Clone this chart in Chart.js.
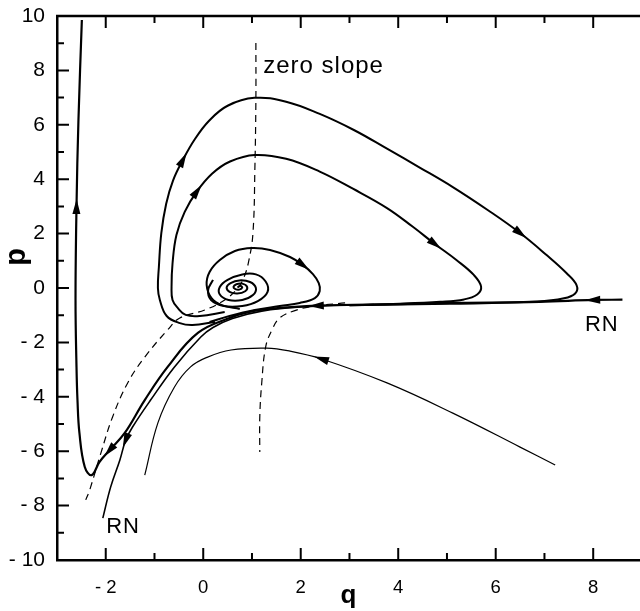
<!DOCTYPE html>
<html>
<head>
<meta charset="utf-8">
<script src="https://cdn.jsdelivr.net/npm/chart.js@4/dist/chart.umd.min.js"></script>
<style>
  html, body { margin: 0; padding: 0; background: #fff; }
  #wrap { width: 640px; height: 611px; }
</style>
</head>
<body>
<div id="wrap"><canvas id="phase"></canvas></div>
<script>
// trajectories, as [q, p]
const rnTop = [
  [8.6, -0.43], [8.0, -0.44], [6.9, -0.51], [5.06, -0.55], [4.03, -0.59],
  [2.33, -0.65], [1.37, -0.77], [0.95, -0.88], [0.54, -1.10], [-0.11, -1.65],
  [-0.73, -2.90], [-1.20, -4.12], [-1.61, -5.33], [-1.92, -5.96], [-2.13, -6.40],
  [-2.29, -6.88], [-2.43, -6.58], [-2.54, -5.33], [-2.58, -4.12], [-2.60, -2.90],
  [-2.62, -0.44], [-2.60, 2.98], [-2.56, 6.18], [-2.49, 9.85],
];
const rnBottom = [
  [3.5, -0.61], [2.0, -0.70], [1.2, -0.85], [0.6, -1.12], [0.2, -1.45],
  [-0.05, -1.80], [-0.59, -2.90], [-1.08, -4.12], [-1.45, -5.11], [-1.59, -5.59],
  [-1.71, -6.32], [-1.90, -7.32], [-2.06, -8.46],
];
const loopOuter = [
  [0.24, -1.25], [-0.22, -1.36], [-0.48, -1.29], [-0.75, -1.03], [-0.89, -0.44],
  [-0.93, 0], [-0.91, 0.77], [-0.86, 2.02], [-0.76, 3.10], [-0.62, 3.95],
  [-0.42, 4.70], [-0.18, 5.45], [0.12, 6.15], [0.50, 6.70], [1.05, 6.99],
  [1.70, 6.85], [2.39, 6.40], [3.10, 5.80], [3.77, 5.12], [4.45, 4.42],
  [5.12, 3.71], [5.85, 2.85], [6.50, 2.02], [7.05, 1.20], [7.45, 0.55],
  [7.66, 0.10], [7.63, -0.20], [7.40, -0.38], [6.85, -0.50], [5.06, -0.58], [3.0, -0.63],
];
const loopMiddle = [
  [0.44, -0.88], [-0.07, -1.03], [-0.36, -0.99], [-0.52, -0.74], [-0.63, -0.44],
  [-0.65, 0.04], [-0.63, 0.90], [-0.55, 1.95], [-0.38, 2.80], [-0.13, 3.55],
  [0.18, 4.20], [0.55, 4.65], [1.06, 4.89], [1.70, 4.75], [2.39, 4.28],
  [3.07, 3.65], [3.77, 2.94], [4.30, 2.25], [4.75, 1.62], [5.20, 1.02],
  [5.55, 0.48], [5.70, 0.05], [5.62, -0.24], [5.35, -0.42], [4.86, -0.51],
  [4.03, -0.58], [3.0, -0.63],
];
const loopSmall = [
  [0.75, -0.77], [0.38, -0.63], [0.17, -0.37], [0.07, 0.11], [0.13, 0.59],
  [0.34, 1.03], [0.65, 1.36], [1.00, 1.47], [1.37, 1.40], [1.78, 1.14],
  [2.04, 0.85], [2.25, 0.51], [2.37, 0.18], [2.39, -0.11], [2.29, -0.37],
  [1.98, -0.55], [1.57, -0.66], [1.06, -0.81], [0.54, -1.03], [0.13, -1.25],
];
const spiral = [
  [0.70, 0.02], [0.76, 0.08], [0.80, 0.02], [0.74, -0.06], [0.66, -0.04],
  [0.62, 0.04], [0.68, 0.14], [0.80, 0.16], [0.90, 0.04], [0.86, -0.12],
  [0.70, -0.20], [0.54, -0.14], [0.48, 0.02], [0.56, 0.18], [0.74, 0.28],
  [0.96, 0.22], [1.08, 0.0], [1.02, -0.26], [0.80, -0.44], [0.52, -0.44],
  [0.34, -0.24], [0.34, 0.04], [0.50, 0.30], [0.80, 0.50], [1.08, 0.50],
  [1.28, 0.24], [1.32, -0.14], [1.12, -0.48], [0.80, -0.66], [0.42, -0.66],
  [0.16, -0.44], [0.10, -0.08], [0.20, 0.30],
];
const lowerArc = [
  [7.22, -6.51], [6.50, -5.85], [5.12, -4.60], [3.77, -3.49], [2.43, -2.61],
  [1.78, -2.32], [1.30, -2.21], [0.57, -2.28], [0.09, -2.54], [-0.26, -2.90],
  [-0.59, -3.64], [-0.93, -4.96], [-1.20, -6.88],
];
// zero slope curves (dashed)
const zeroSlopeLeft = [
  [1.08, 9.01], [1.08, 6.91], [1.06, 4.45], [1.02, 2.02], [0.93, 0.96],
  [0.83, 0.37], [0.71, 0.0], [0.44, -0.44], [0.03, -0.81], [-0.48, -1.10],
  [-0.73, -1.54], [-1.20, -2.54], [-1.55, -3.49], [-1.86, -4.74], [-2.10, -6.07],
  [-2.33, -7.43], [-2.41, -7.79],
];
const zeroSlopeRight = [
  [2.91, -0.55], [2.29, -0.66], [1.88, -0.83], [1.57, -1.10], [1.41, -1.54],
  [1.28, -2.17], [1.20, -3.49], [1.16, -4.74], [1.16, -6.03],
];

// arrows: [dataset, point index], pointing along the curve
const arrows = [
  [0, 1], [0, 5], [0, 13], [0, 21], [1, 9],
  [2, 10], [2, 22], [3, 9], [3, 18], [4, 10], [6, 4],
];

const notes = [
  { text: 'zero slope', q: 1.23, p: 7.92 },
  { text: 'RN', q: 7.83, p: -1.58 },
  { text: 'RN', q: -1.99, p: -9.0 },
];

const font = 'Liberation Sans, Arial, sans-serif';

function line(pts, width, dash) {
  return {
    data: pts.map(([q, p]) => ({ x: q, y: p })),
    showLine: true,
    borderColor: '#000',
    backgroundColor: '#000',
    borderWidth: width,
    borderDash: dash || [],
    pointRadius: 0,
    tension: 0.4,
  };
}

function fmt(v) {
  return v < 0 ? '- ' + Math.abs(v) : String(v);
}

function noPad(s) {
  s.paddingTop = 0;
  s.paddingBottom = 0;
  s.paddingLeft = 0;
  s.paddingRight = 0;
}

const decor = {
  id: 'decor',
  afterDatasetsDraw(chart) {
    const { ctx, chartArea: a } = chart;
    const xs = chart.scales.x;
    const ys = chart.scales.y;
    ctx.save();
    ctx.fillStyle = '#000';
    // arrow heads
    arrows.forEach(([d, i]) => {
      const pts = chart.getDatasetMeta(d).data;
      const prev = pts[Math.max(i - 1, 0)];
      const next = pts[Math.min(i + 1, pts.length - 1)];
      const ang = Math.atan2(next.y - prev.y, next.x - prev.x);
      const c = pts[i];
      ctx.save();
      ctx.translate(c.x, c.y);
      ctx.rotate(ang);
      ctx.beginPath();
      ctx.moveTo(8, 0);
      ctx.lineTo(-7, -4);
      ctx.lineTo(-7, 4);
      ctx.closePath();
      ctx.fill();
      ctx.restore();
    });

    // top axis and inward ticks
    ctx.strokeStyle = '#000';
    ctx.lineWidth = 2.5;
    ctx.beginPath();
    ctx.moveTo(a.left - 1, a.top);
    ctx.lineTo(a.right, a.top);
    ctx.stroke();
    ctx.lineWidth = 2;
    ctx.beginPath();
    for (let q = -2; q <= 8; q++) {
      const x = xs.getPixelForValue(q);
      const len = q % 2 === 0 ? 12 : 7;
      ctx.moveTo(x, a.bottom); ctx.lineTo(x, a.bottom - len);
      ctx.moveTo(x, a.top); ctx.lineTo(x, a.top + len);
    }
    for (let p = -9; p <= 9; p++) {
      const y = ys.getPixelForValue(p);
      const len = p % 2 === 0 ? 12 : 7;
      ctx.moveTo(a.left, y); ctx.lineTo(a.left + len, y);
    }
    ctx.stroke();

    // notes
    ctx.letterSpacing = '1px';
    ctx.textAlign = 'left';
    ctx.textBaseline = 'alphabetic';
    notes.forEach((n, k) => {
      ctx.font = (k === 0 ? 24 : 22) + 'px ' + font;
      ctx.fillText(n.text, xs.getPixelForValue(n.q), ys.getPixelForValue(n.p));
    });
    ctx.letterSpacing = '0px';

    // axis titles
    ctx.textAlign = 'center';
    ctx.font = 'bold 26px ' + font;
    ctx.fillText('q', (a.left + a.right) / 2, 603);
    ctx.save();
    ctx.translate(25, 257);
    ctx.rotate(-Math.PI / 2);
    ctx.font = 'bold 29px ' + font;
    ctx.fillText('p', 0, 0);
    ctx.restore();
    ctx.restore();
  },
};

new Chart(document.getElementById('phase'), {
  type: 'scatter',
  data: {
    datasets: [
      line(rnTop, 2.2),
      line(rnBottom, 1.6),
      line(loopOuter, 2),
      line(loopMiddle, 2),
      line(loopSmall, 2),
      line(spiral, 2),
      line(lowerArc, 1.2),
      line(zeroSlopeLeft, 1.2, [7, 5]),
      line(zeroSlopeRight, 1.2, [7, 5]),
    ],
  },
  options: {
    responsive: true,
    maintainAspectRatio: false,
    animation: false,
    devicePixelRatio: 1,
    layout: { padding: { top: 16, right: 0, left: 0, bottom: 0 } },
    plugins: { legend: { display: false }, tooltip: { enabled: false } },
    scales: {
      x: {
        type: 'linear',
        min: -3,
        max: 8.96,
        ticks: {
          stepSize: 2,
          includeBounds: false,
          color: '#000',
          padding: 17,
          font: { family: font, size: 18.5 },
          callback: fmt,
        },
        grid: { drawOnChartArea: false, drawTicks: false },
        border: { display: true, color: '#000', width: 2.5 },
        afterFit(s) { s.height = 51; noPad(s); },
      },
      y: {
        type: 'linear',
        min: -10,
        max: 10,
        ticks: {
          stepSize: 2,
          color: '#000',
          padding: 12,
          font: { family: font, size: 21 },
          callback: fmt,
        },
        grid: { drawOnChartArea: false, drawTicks: false },
        border: { display: true, color: '#000', width: 2.5 },
        afterFit(s) { s.width = 57; noPad(s); },
      },
    },
  },
  plugins: [decor],
});
</script>
</body>
</html>
